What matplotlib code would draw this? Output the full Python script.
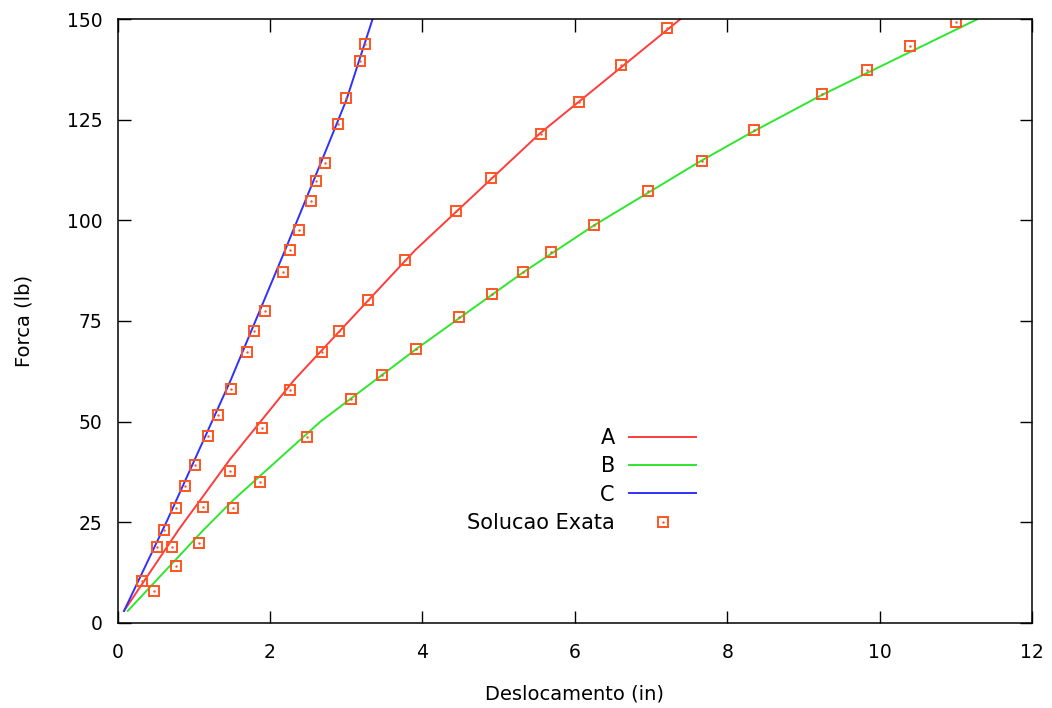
import matplotlib
matplotlib.use("Agg")
import matplotlib.pyplot as plt
from matplotlib.legend_handler import HandlerTuple

# curvas calculadas
a_x = [0.085, 0.798, 1.476, 2.316, 3.283, 3.904, 4.902, 5.545, 7.38]
a_y = [2.9, 23.0, 40.6, 60.3, 80.0, 92.6, 110.3, 121.7, 150.0]

b_x = [0.134, 1.126, 1.52, 2.657, 3.917, 5.322, 6.253, 7.644, 8.30, 9.24, 11.276]
b_y = [2.9, 23.0, 30.5, 49.9, 68.0, 87.1, 98.8, 114.7, 121.7, 131.2, 150.0]

c_x = [0.085, 0.654, 1.485, 2.198, 2.736, 3.003, 3.345]
c_y = [2.9, 25.5, 60.3, 92.6, 117.5, 130.0, 150.0]

# solucao exata
exata_a_x = [0.715, 1.122, 1.476, 1.892, 2.268, 2.688, 2.902, 3.283, 3.769, 4.438,
             4.902, 5.554, 6.057, 6.608, 7.202]
exata_a_y = [18.9, 28.8, 37.7, 48.5, 57.8, 67.4, 72.5, 80.2, 90.1, 102.3,
             110.5, 121.4, 129.4, 138.6, 147.8]

exata_b_x = [0.483, 0.768, 1.074, 1.520, 1.875, 2.491, 3.069, 3.467, 3.917, 4.473,
             4.911, 5.322, 5.685, 6.253, 6.953, 7.667, 8.353, 9.241, 9.836, 10.39, 11.00]
exata_b_y = [7.8, 14.1, 19.9, 28.4, 35.0, 46.1, 55.7, 61.5, 68.0, 76.0,
             81.7, 87.1, 92.1, 98.8, 107.2, 114.7, 122.4, 131.5, 137.4, 143.3, 149.3]

exata_c_x = [0.322, 0.523, 0.615, 0.768, 0.882, 1.013, 1.183, 1.315, 1.490, 1.695, 1.796,
             1.936, 2.176, 2.268, 2.382, 2.535, 2.609, 2.718, 2.889, 3.003, 3.178, 3.244]
exata_c_y = [10.4, 18.9, 23.0, 28.5, 33.9, 39.3, 46.5, 51.5, 58.2, 67.4, 72.5,
             77.5, 87.2, 92.6, 97.6, 104.8, 109.8, 114.4, 124.0, 130.4, 139.6, 143.8]

x_ticks = [0, 2, 4, 6, 8, 10, 12]
y_ticks = [0, 25, 50, 75, 100, 125, 150]

plt.rcParams["font.family"] = ["DejaVu Sans"]

fig = plt.figure(figsize=(10.52, 7.08), dpi=100)
ax = fig.add_axes([0.1117, 0.1206, 0.8696, 0.8521])

la, = ax.plot(a_x, a_y, color="#ff3c3c", lw=1.4, label="A")
lb, = ax.plot(b_x, b_y, color="#2ee62e", lw=1.4, label="B")
lc, = ax.plot(c_x, c_y, color="#3030ff", lw=1.4, label="C")

mk = dict(ls="none", marker="s", ms=7, mfc="none", mec="#ff5522", mew=1.4)
dot = dict(ls="none", marker=".", ms=1.5, color="#ff5522")
sq = None
for ex, ey in [(exata_a_x, exata_a_y), (exata_b_x, exata_b_y), (exata_c_x, exata_c_y)]:
    s, = ax.plot(ex, ey, **mk)
    d, = ax.plot(ex, ey, **dot)
    if sq is None:
        sq = (s, d)

ax.set_xlim(0, 12)
ax.set_ylim(0, 150)
ax.set_xticks(x_ticks)
ax.set_yticks(y_ticks)
ax.tick_params(direction="in", length=9, width=1, top=True, right=True,
               labelsize=13.5, colors="black")
ax.tick_params(axis="x", pad=15)
ax.tick_params(axis="y", pad=11)
for sp in ax.spines.values():
    sp.set_linewidth(1.1)

ax.set_xlabel("Deslocamento (in)", fontsize=14, labelpad=16)
ax.set_ylabel("Forca (lb)", fontsize=14, labelpad=24)

ax.legend([la, lb, lc, sq], ["A", "B", "C", "Solucao Exata"],
          handler_map={tuple: HandlerTuple(ndivide=1, pad=0)},
          loc="upper right", bbox_to_anchor=(0.6324, 0.3225),
          frameon=False, markerfirst=False, fontsize=15,
          handlelength=3.2, handletextpad=0.7, labelspacing=0.4,
          borderpad=0, borderaxespad=0)

fig.savefig("out.png", dpi=100)
